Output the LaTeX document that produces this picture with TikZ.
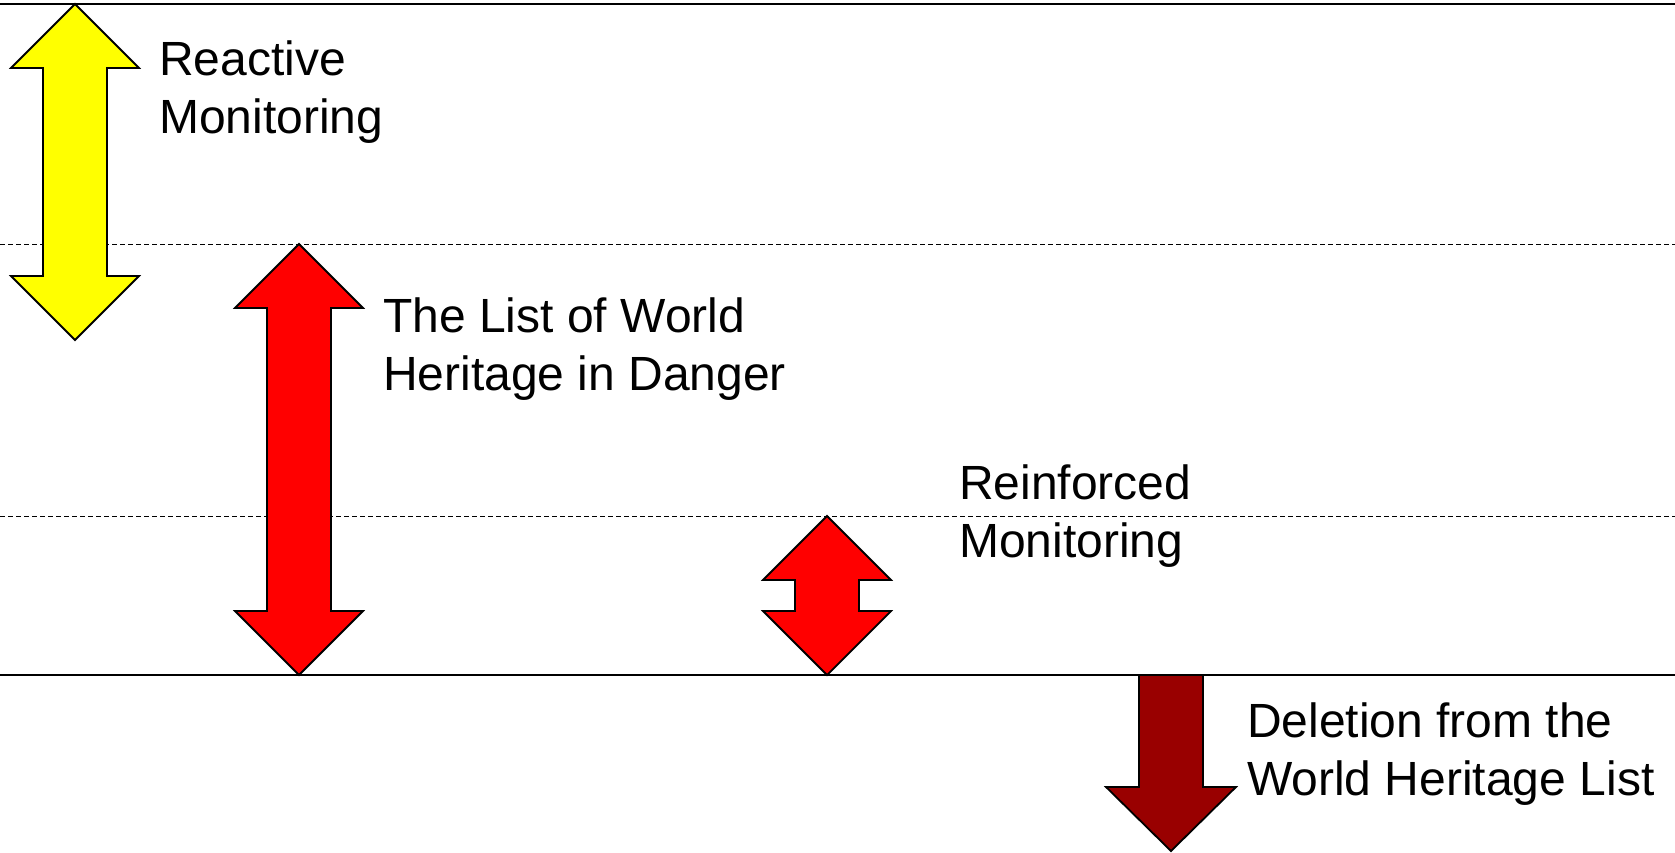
\documentclass[tikz,border=0pt]{standalone}
\usepackage{fontspec}
\setmainfont{Liberation Sans}
\usepackage{xcolor}
\usepackage{tikz}

\definecolor{arrowyellow}{HTML}{FFFF00}
\definecolor{arrowred}{HTML}{FF0000}
\definecolor{arrowdark}{HTML}{990000}

\tikzset{
  arrowshape/.style={draw=black, line width=1.8pt, line join=miter},
  label/.style={anchor=base west, inner sep=0pt, align=left, font=\fontsize{48}{58}\selectfont},
  bandline/.style={draw=black, line width=1pt, dashed, dash pattern=on 5pt off 3pt},
  edgeline/.style={draw=black, line width=2.2pt}
}

% double headed arrow: fill, centre x, top tip y, bottom tip y
\newcommand{\dblarrow}[4]{%
  \draw[arrowshape, fill=#1] (#2,#3) -- ++(64,64) -- ++(-32,0) -- (#2+32,#4-64) -- ++(32,0)
    -- (#2,#4) -- ++(-64,-64) -- ++(32,0) -- (#2-32,#3+64) -- ++(-32,0) -- cycle;
}

\begin{document}
\begin{tikzpicture}[x=1pt, y=-1pt]
\useasboundingbox (0,0) rectangle (1675,852);
\fill[white] (0,0) rectangle (1675,852);

% lines
\draw[edgeline] (0,4) -- (1675,4);
\draw[bandline] (0,244) -- (1675,244);
\draw[bandline] (0,516) -- (1675,516);
\draw[edgeline] (0,675) -- (1675,675);

% arrows
\dblarrow{arrowyellow}{75}{4}{340}
\dblarrow{arrowred}{299}{244}{675}
\dblarrow{arrowred}{827}{516}{675}
\draw[arrowshape, fill=arrowdark] (1139,675) -- (1203,675) -- (1203,787) -- (1236,787)
  -- (1171,851) -- (1106,787) -- (1139,787) -- cycle;

% labels (anchored on the baseline of the second line)
\node[label] (reactive) at (159,133) {Reactive\\Monitoring};
\node[label] (danger) at (383,390) {The List of World\\Heritage in Danger};
\node[label] (reinforced) at (959,557) {Reinforced\\Monitoring};
\node[label] (deletion) at (1247,795) {Deletion from the\\World Heritage List};
\end{tikzpicture}
\end{document}
